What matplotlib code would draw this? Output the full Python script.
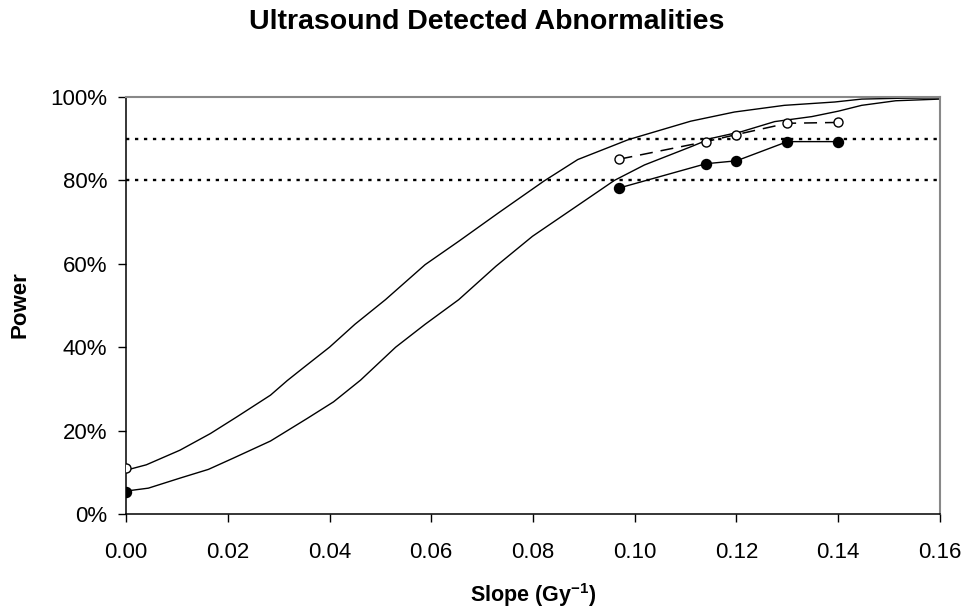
import numpy as np
import matplotlib.pyplot as plt
from matplotlib.ticker import FuncFormatter

plt.rcParams['font.family'] = ['Liberation Sans', 'DejaVu Sans']
plt.rcParams['mathtext.fontset'] = 'custom'
plt.rcParams['mathtext.bf'] = 'Liberation Sans:bold'
plt.rcParams['mathtext.rm'] = 'Liberation Sans'

# power curves (slope in Gy^-1, power in %)
upper_x = [0.0, 0.004, 0.0106, 0.0166, 0.0218, 0.0284, 0.0317, 0.035, 0.040, 0.045,
           0.051, 0.0588, 0.0654, 0.0732, 0.0821, 0.0888, 0.0988, 0.111, 0.1196,
           0.1294, 0.1393, 0.1446, 0.1522, 0.160]
upper_y = [10.5, 11.8, 15.3, 19.3, 23.3, 28.5, 32.0, 35.2, 40.0, 45.5,
           51.4, 59.8, 65.4, 72.2, 79.8, 85.0, 89.8, 94.2, 96.4,
           98.0, 98.8, 99.5, 99.7, 99.8]

lower_x = [0.0, 0.0044, 0.0106, 0.0162, 0.0211, 0.0284, 0.0356, 0.0408, 0.0461, 0.053,
           0.0588, 0.0654, 0.0727, 0.0799, 0.090, 0.096, 0.1019, 0.1111, 0.1151,
           0.121, 0.1275, 0.1348, 0.1400, 0.1446, 0.1513, 0.160]
lower_y = [5.5, 6.2, 8.6, 10.7, 13.4, 17.5, 22.9, 26.9, 32.1, 40.0,
           45.5, 51.4, 59.4, 66.6, 75.0, 80.0, 83.7, 88.1, 90.1,
           91.7, 94.1, 95.3, 96.6, 98.0, 99.1, 99.5]

# observed points
pts_x = [0.0, 0.097, 0.114, 0.120, 0.130, 0.140]
filled_y = [5.3, 78.2, 84.0, 84.7, 89.3, 89.3]
open_y = [11.0, 85.1, 89.3, 91.0, 93.7, 93.9]

ref_levels = [80, 90]

fig = plt.figure(figsize=(9.65, 6.14), dpi=100)
ax = fig.add_axes([126/965, 1-514/614, (940-126)/965, (514-97)/614])

for lvl in ref_levels:
    ax.plot([0, 0.16], [lvl, lvl], color='black', linestyle=(0, (1.4, 2.4)), lw=1.7)

ax.plot(upper_x, upper_y, color='black', lw=1.0)
ax.plot(lower_x, lower_y, color='black', lw=1.0)

ax.plot(pts_x[1:], open_y[1:], color='black', lw=1.1, linestyle=(0, (8.5, 5.2)))
ax.plot(pts_x[1:], filled_y[1:], color='black', lw=1.0)
ax.plot(pts_x, open_y, 'o', ms=6.5, mfc='white', mec='black', mew=1.0, ls='none', zorder=5)
ax.plot(pts_x, filled_y, 'o', ms=7.2, mfc='black', mec='black', ls='none', zorder=5)

ax.set_xlim(0, 0.16)
ax.set_ylim(0, 100)
ax.set_xticks(np.arange(0, 0.161, 0.02))
ax.set_yticks(np.arange(0, 101, 20))
ax.xaxis.set_major_formatter(FuncFormatter(lambda v, p: '%.2f' % v))
ax.yaxis.set_major_formatter(FuncFormatter(lambda v, p: '%d%%' % v))
ax.tick_params(direction='out', length=5.5, width=1, labelsize=16)
ax.tick_params(axis='x', pad=15)
ax.tick_params(axis='y', pad=8)
ax.spines['top'].set_color('#888888')
ax.spines['right'].set_color('#888888')
ax.spines['top'].set_linewidth(1.5)
ax.spines['right'].set_linewidth(1.5)
ax.spines['left'].set_linewidth(1.1)
ax.spines['bottom'].set_linewidth(1.1)

fig.text(487/965, 1-22/614, 'Ultrasound Detected Abnormalities', ha='center', va='center',
         fontsize=20.5, fontweight='bold')
fig.text(533/965, 1-595/614, r'Slope (Gy$^{\mathbf{-1}}$)', ha='center', va='center',
         fontsize=15.5, fontweight='bold')
fig.text(20/965, 1-305/614, 'Power', ha='center', va='center', rotation=90,
         fontsize=16, fontweight='bold')

fig.savefig('out.png', dpi=100)
